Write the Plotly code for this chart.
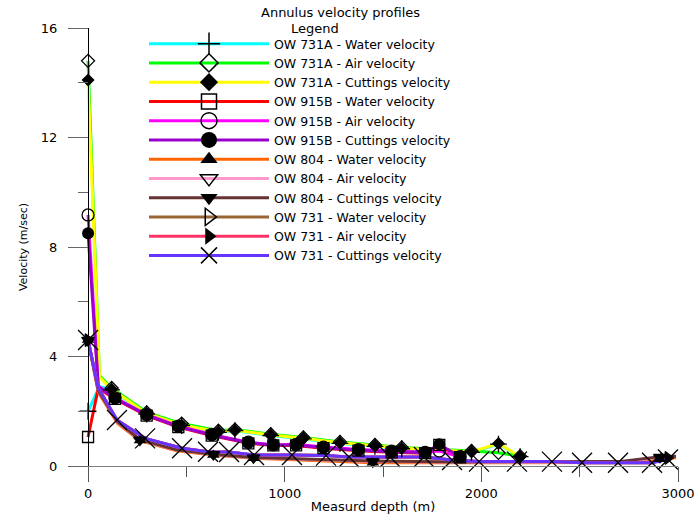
import plotly.graph_objects as go

# ---------------- data ----------------
depth_731A = [0, 58, 120, 298, 476, 663, 747, 929, 1095, 1281, 1459, 1595, 1950, 2087, 2197]
water_731A = [2.0, 2.9, 2.78, 1.9, 1.48, 1.23, 1.29, 1.11, 0.99, 0.83, 0.72, 0.63, 0.5, 0.8, 0.34]
air_731A = [14.8, 3.3, 2.85, 1.96, 1.55, 1.29, 1.33, 1.16, 1.04, 0.88, 0.77, 0.68, 0.55, 0.48, 0.36]
cut_731A = [14.1, 3.25, 2.8, 1.92, 1.5, 1.25, 1.31, 1.13, 1.01, 0.85, 0.74, 0.65, 0.52, 0.82, 0.35]

depth_915B = [0, 52, 137, 298, 459, 629, 815, 942, 1058, 1197, 1375, 1544, 1714, 1786, 1892]
water_915B = [1.06, 2.84, 2.45, 1.84, 1.42, 1.11, 0.83, 0.75, 0.75, 0.65, 0.56, 0.50, 0.47, 0.77, 0.32]
air_915B = [9.17, 2.92, 2.49, 1.88, 1.46, 1.15, 0.87, 0.77, 0.79, 0.69, 0.60, 0.54, 0.50, 0.55, 0.34]
cut_915B = [8.5, 2.9, 2.47, 1.86, 1.44, 1.13, 0.85, 0.77, 0.77, 0.67, 0.58, 0.52, 0.49, 0.79, 0.34]

depth_804 = [0, 52, 150, 264, 450, 637, 841, 1100, 1448, 1900, 2400, 2700, 2908, 2990]
water_804 = [4.6, 2.7, 1.55, 0.93, 0.56, 0.40, 0.28, 0.22, 0.12, 0.12, 0.12, 0.13, 0.25, 0.30]
air_804 = [4.6, 2.75, 1.6, 0.95, 0.58, 0.42, 0.30, 0.24, 0.16, 0.14, 0.13, 0.14, 0.32, 0.35]
cut_804 = [4.6, 2.75, 1.62, 0.96, 0.59, 0.43, 0.31, 0.25, 0.18, 0.15, 0.14, 0.16, 0.34, 0.36]

depth_731 = [0, 52, 147, 290, 478, 610, 717, 844, 1037, 1210, 1327, 1536, 1708, 1851,
             1988, 2181, 2359, 2512, 2695, 2868, 2949]
water_731 = [4.6, 2.85, 1.68, 1.01, 0.65, 0.52, 0.51, 0.40, 0.40, 0.38, 0.33, 0.33, 0.33, 0.22,
             0.16, 0.16, 0.16, 0.12, 0.12, 0.12, 0.30]
air_731 = [4.6, 2.85, 1.68, 1.01, 0.65, 0.52, 0.51, 0.40, 0.40, 0.38, 0.33, 0.33, 0.33, 0.22,
           0.16, 0.16, 0.16, 0.12, 0.12, 0.12, 0.28]
cut_731 = [4.6, 2.85, 1.68, 1.01, 0.65, 0.52, 0.51, 0.40, 0.40, 0.38, 0.33, 0.33, 0.33, 0.22,
           0.16, 0.16, 0.16, 0.12, 0.12, 0.12, 0.24]

series_names = [
    "OW 731A - Water velocity", "OW 731A - Air velocity", "OW 731A - Cuttings velocity",
    "OW 915B - Water velocity", "OW 915B - Air velocity", "OW 915B - Cuttings velocity",
    "OW 804 - Water velocity", "OW 804 - Air velocity", "OW 804 - Cuttings velocity",
    "OW 731 - Water velocity", "OW 731 - Air velocity", "OW 731 - Cuttings velocity",
]

# ---------------- styling ----------------
FONT = "DejaVu Sans"
colors = ["#00ffff", "#00ff00", "#ffff00", "#ff0000", "#ff00ff", "#9900cc",
          "#ff6600", "#ff99cc", "#663333", "#996633", "#ff3366", "#6633ff"]
symbols = ["cross-thin", "diamond-open", "diamond", "square-open", "circle-open", "circle",
           "triangle-up", "triangle-down-open", "triangle-down",
           "triangle-right-open", "triangle-right", "x-thin"]
sizes = [12, 10, 10, 11, 12, 12, 11, 11, 11, 11, 11, 20]
legend_sizes = [16, 14, 14, 15, 16, 16, 15, 15, 15, 15, 15, 16]

xs = [depth_731A] * 3 + [depth_915B] * 3 + [depth_804] * 3 + [depth_731] * 3
ys = [water_731A, air_731A, cut_731A, water_915B, air_915B, cut_915B,
      water_804, air_804, cut_804, water_731, air_731, cut_731]


def marker_idx(k, n):
    if k in (6, 7, 8):          # OW 804: markers at a few depths only
        return [0, 3, 5, 6, 8, 12]
    if k in (9, 10):            # OW 731 water / air: markers at ends only
        return [0, n - 1]
    return [i for i in range(n) if i != 1]


def mline(sym, lw_open=1.3):
    return dict(color="black", width=lw_open if ("open" in sym or "thin" in sym) else 0)


fig = go.Figure()

# lines first
for k in range(12):
    fig.add_trace(go.Scatter(x=xs[k], y=ys[k], mode="lines",
                             line=dict(color=colors[k], width=3),
                             showlegend=False, hoverinfo="skip", cliponaxis=False))

# markers on top
for k in range(12):
    idx = marker_idx(k, len(xs[k]))
    fig.add_trace(go.Scatter(x=[xs[k][i] for i in idx], y=[ys[k][i] for i in idx],
                             mode="markers",
                             marker=dict(symbol=symbols[k], size=sizes[k], color="black",
                                         line=mline(symbols[k])),
                             showlegend=False, cliponaxis=False))

# legend entries
for k in range(12):
    fig.add_trace(go.Scatter(x=[None], y=[None], mode="lines+markers", name=series_names[k],
                             line=dict(color=colors[k], width=3),
                             marker=dict(symbol=symbols[k], size=legend_sizes[k], color="black",
                                         line=mline(symbols[k], 1.5))))

W, H = 694, 517
L, T = 68, 28
R = W - 678
B = H - 466
pw = W - L - R
ph = H - T - B


def px(sx):
    return (sx - L) / pw


def py(sy):
    return 1 - (sy - T) / ph


fig.update_layout(
    width=W, height=H,
    margin=dict(l=L, r=R, t=T, b=B, autoexpand=False),
    paper_bgcolor="white", plot_bgcolor="white",
    font=dict(family=FONT, size=13, color="black"),
    showlegend=True,
    legend=dict(x=px(144), y=py(29), xanchor="left", yanchor="top",
                bgcolor="rgba(0,0,0,0)", borderwidth=0, itemwidth=120,
                tracegroupgap=0, font=dict(family=FONT, size=12.5)),
    xaxis=dict(range=[-102, 3000], showgrid=False, zeroline=False,
               showline=True, linecolor="#7f7f7f", linewidth=1,
               ticks="outside", ticklen=15, tickcolor="#555555", tickwidth=1,
               tickvals=[0, 1000, 2000, 3000], ticklabeloverflow="allow",
               minor=dict(tickvals=[500, 1500, 2500], ticklen=10, tickcolor="#555555",
                          ticks="outside", showgrid=False),
               tickfont=dict(family=FONT, size=13),
               title=dict(text="Measurd depth (m)", font=dict(family=FONT, size=13), standoff=2)),
    yaxis=dict(range=[0, 16], showgrid=False, zeroline=False, anchor="free",
               position=px(88),
               showline=True, linecolor="black", linewidth=1,
               ticks="outside", ticklen=20, tickcolor="#666666", tickwidth=1,
               tickvals=[0, 4, 8, 12, 16],
               minor=dict(tickvals=[2, 6, 10, 14], ticklen=10, tickcolor="#666666",
                          ticks="outside", showgrid=False),
               ticklabelstandoff=8,
               tickfont=dict(family=FONT, size=13),
               title=dict(text="Velocity (m/sec)", font=dict(family=FONT, size=11), standoff=10)),
    annotations=[
        dict(text="Annulus velocity profiles", xref="paper", yref="paper",
             x=px(340), y=py(12), xanchor="center", yanchor="middle",
             showarrow=False, font=dict(family=FONT, size=13)),
        dict(text="Legend", xref="paper", yref="paper",
             x=px(315), y=py(28), xanchor="center", yanchor="middle",
             showarrow=False, font=dict(family=FONT, size=13)),
    ],
)

fig.write_html("out.html", config={"displayModeBar": False},
               post_script="document.body.style.margin='0';document.body.style.padding='0';")
